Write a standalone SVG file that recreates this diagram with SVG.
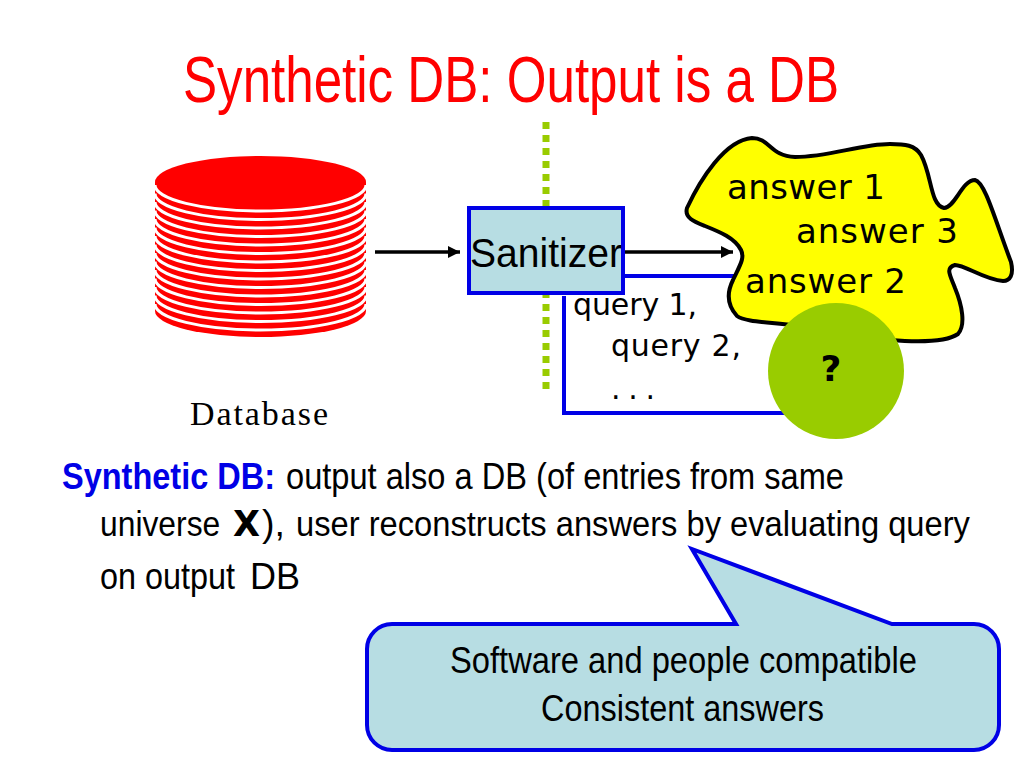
<svg xmlns="http://www.w3.org/2000/svg" width="1024" height="768" viewBox="0 0 1024 768">
<style>
.s{font-family:"Liberation Sans",Arial,sans-serif}
.c{font-family:"DejaVu Sans",sans-serif;fill:#000}
.b{font-size:36px;fill:#000}
.w{fill:none;stroke:#fff;stroke-width:3}
</style>
<defs>
<marker id="ah" markerWidth="13" markerHeight="13" refX="12" refY="6" orient="auto" markerUnits="userSpaceOnUse"><path d="M0 0L12 6L0 12Z" fill="#000"/></marker>
<path id="arc" d="M155 185a105.500 26 0 0 0 211 0"/>
</defs>
<rect width="1024" height="768" fill="#fff"/>
<text id="title" class="s" x="183" y="102" font-size="64" fill="#f00" textLength="656" lengthAdjust="spacingAndGlyphs">Synthetic DB: Output is a DB</text>
<line x1="546" y1="122" x2="546" y2="390" stroke="#99cc00" stroke-width="7" stroke-dasharray="7 6"/>
<g id="database">
<path d="M155 182a105.500 26 0 0 1 211 0v129a105.500 26 0 0 1-211 0z" fill="#f00"/>
<use href="#arc" class="w"/>
<use href="#arc" class="w" y="8.500"/>
<use href="#arc" class="w" y="17"/>
<use href="#arc" class="w" y="25.500"/>
<use href="#arc" class="w" y="34"/>
<use href="#arc" class="w" y="42.500"/>
<use href="#arc" class="w" y="51"/>
<use href="#arc" class="w" y="59.500"/>
<use href="#arc" class="w" y="68"/>
<use href="#arc" class="w" y="76.500"/>
<use href="#arc" class="w" y="85"/>
<use href="#arc" class="w" y="93.500"/>
<use href="#arc" class="w" y="102"/>
<use href="#arc" class="w" y="110.500"/>
<use href="#arc" class="w" y="119"/>
<text x="190" y="425" font-family="'Liberation Serif',serif" font-size="34" fill="#000" textLength="138">Database</text>
</g>
<g id="connectors">
<line x1="375" y1="252" x2="460" y2="252" stroke="#000" stroke-width="3.500" marker-end="url(#ah)"/>
<line x1="622" y1="252" x2="733" y2="252" stroke="#000" stroke-width="3.500" marker-end="url(#ah)"/>
<path d="M622 276H760M564 296V413H800" fill="none" stroke="#0000e6" stroke-width="4"/>
</g>
<g id="answers">
<path d="M687 208C700 180 725 140 752 138C770 138 770 156 795 157C830 157 860 144 890 144C905 144 915 145 921 155C932 175 930 205 944 208C955 208 962 180 975 180C985 182 995 220 1011 262C1014 275 1010 281 1003 281C985 280 965 265 955 265C945 268 950 275 955 288C962 305 966 325 958 334C945 343 915 342 890 340C860 338 830 330 798 326C770 322 745 322 737 316C727 305 727 292 733 280C740 265 745 258 741 250C735 238 720 232 705 226C695 222 684 218 687 208Z" fill="#ff0" stroke="#000" stroke-width="4"/>
<text class="c" x="727" y="199" font-size="34" textLength="158">answer 1</text>
<text class="c" x="796" y="243" font-size="34" textLength="162">answer 3</text>
<text class="c" x="745" y="293" font-size="34" textLength="161">answer 2</text>
</g>
<g id="query-text">
<text class="c" x="573" y="315" font-size="30" textLength="124">query 1,</text>
<text class="c" x="611" y="356" font-size="30" textLength="130">query 2,</text>
<text class="c" x="611" y="399" font-size="30" textLength="44">. . .</text>
</g>
<g id="sanitizer">
<rect x="469" y="208" width="154" height="85" fill="#b7dde3" stroke="#0000e6" stroke-width="4"/>
<text class="s" x="470" y="267" font-size="40" textLength="152" lengthAdjust="spacingAndGlyphs">Sanitizer</text>
</g>
<g id="user">
<circle cx="836" cy="371" r="68" fill="#99cc00"/>
<text x="831" y="381" font-family="'DejaVu Sans',sans-serif" font-size="36" font-weight="bold" text-anchor="middle">?</text>
</g>
<g id="body">
<text class="s b" x="62" y="489" font-weight="bold" style="fill:#0000e6" textLength="213" lengthAdjust="spacingAndGlyphs">Synthetic DB:</text>
<text class="s b" x="286" y="489" textLength="558" lengthAdjust="spacingAndGlyphs">output also a DB (of entries from same</text>
<text class="s b" transform="translate(100 536) scale(.884 1)">universe</text>
<text x="233" y="536" font-family="'DejaVu Sans',sans-serif" font-weight="bold" font-size="36" textLength="27" lengthAdjust="spacingAndGlyphs">X</text>
<text class="s b" x="262" y="536" textLength="23" lengthAdjust="spacingAndGlyphs">),</text>
<text class="s b" transform="translate(296 536) scale(.908 1)">user reconstructs answers by evaluating query</text>
<text class="s b" x="100" y="589" textLength="135" lengthAdjust="spacingAndGlyphs">on output</text>
<text class="s" x="250" y="589" font-size="36">DB</text>
</g>
<g id="callout">
<path d="M392 624H736L692 549L892 624H974A25 25 0 0 1 999 649V725A25 25 0 0 1 974 750H392A25 25 0 0 1 367 725V649A25 25 0 0 1 392 624Z" fill="#b7dde3" stroke="#0000e6" stroke-width="4"/>
<text class="s b" x="450" y="673" textLength="467" lengthAdjust="spacingAndGlyphs">Software and people compatible</text>
<text class="s b" x="541" y="721" textLength="283" lengthAdjust="spacingAndGlyphs">Consistent answers</text>
</g>
</svg>
